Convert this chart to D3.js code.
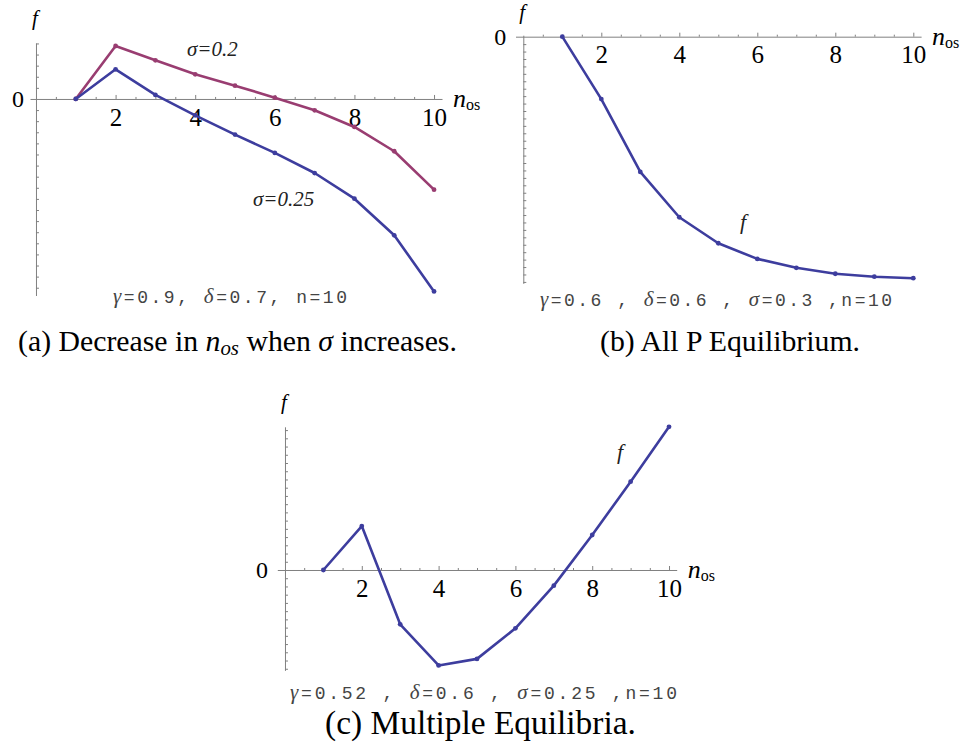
<!DOCTYPE html>
<html>
<head>
<meta charset="utf-8">
<script src="https://cdn.jsdelivr.net/npm/d3@7"></script>
<style>
  html, body { margin: 0; padding: 0; background: #fff; }
  svg { display: block; }
</style>
</head>
<body>
<svg id="chart" width="964" height="748"></svg>
<script>
// ---------------- data ----------------
const nOS = [1, 2, 3, 4, 5, 6, 7, 8, 9, 10];
const xTickLabels = [2, 4, 6, 8, 10];

// panel (a): two sigma values (values in y-tick units)
const fA_sigma020 = [0, 4.77, 3.48, 2.22, 1.20, 0.12, -1.02, -2.52, -4.71, -8.17];
const fA_sigma025 = [0, 2.67, 0.36, -1.47, -3.21, -4.86, -6.67, -8.98, -12.28, -17.33];
// panel (b): all P equilibrium
const fB = [0, -8.4, -18.2, -24.3, -27.8, -29.9, -31.1, -31.9, -32.3, -32.5];
// panel (c): multiple equilibria
const fC = [0, 5.34, -6.6, -11.6, -10.8, -7.09, -1.9, 4.25, 10.73, 17.4];

const paramsA = "γ=0.9, δ=0.7, n=10";
const paramsB = "γ=0.6 , δ=0.6 , σ=0.3 ,n=10";
const paramsC = "γ=0.52 , δ=0.6 , σ=0.25 ,n=10";

const BLUE = "#3d3d9e";
const PURPLE = "#993d71";
const AXIS = "#808080";
const SERIF = "'Liberation Serif', 'Times New Roman', serif";
const MONO = "'Liberation Mono', 'Courier New', monospace";

const svg = d3.select("#chart");

function fitWidth(sel, target) {
  const w = sel.node().getBBox().width;
  const fs = parseFloat(sel.attr("font-size"));
  sel.attr("font-size", fs * target / w);
}

function drawPanel(cfg) {
  const g = svg.append("g");
  const x = d3.scaleLinear().domain(cfg.xDomain).range(cfg.xRange);
  const y = d3.scaleLinear().domain(cfg.yDomain).range(cfg.yRange);
  const x0 = x(0), y0 = y(0);

  // y axis (ticks to the right, no labels)
  const yTicks = d3.range(Math.ceil(cfg.yDomain[0]), Math.floor(cfg.yDomain[1]) + 1).filter(v => v !== 0);
  const yAxis = g.append("g").attr("transform", `translate(${x0},0)`)
    .call(d3.axisRight(y).tickValues(yTicks).tickSize(3).tickSizeOuter(0).tickFormat(""));
  yAxis.select(".domain").attr("stroke", AXIS).attr("stroke-width", 1);
  yAxis.selectAll(".tick line").attr("stroke", AXIS).attr("stroke-width", 1);

  // x axis minor ticks
  const minor = d3.range(0.5, 10.01, 0.5).filter(v => xTickLabels.indexOf(v) < 0);
  const xMinor = g.append("g").attr("transform", `translate(0,${y0})`)
    .call(d3.axisBottom(x).tickValues(minor).tickSize(-2).tickSizeOuter(0).tickFormat(""));
  xMinor.select(".domain").remove();
  xMinor.selectAll(".tick line").attr("stroke", AXIS);

  // x axis major ticks + labels
  const xAxis = g.append("g").attr("transform", `translate(0,${y0})`)
    .call(d3.axisBottom(x).tickValues(xTickLabels).tickSize(-4).tickSizeOuter(0).tickPadding(9));
  xAxis.attr("font-family", SERIF).attr("font-size", 25);
  xAxis.select(".domain").attr("stroke", AXIS).attr("stroke-width", 1);
  xAxis.selectAll(".tick line").attr("stroke", AXIS);
  xAxis.selectAll(".tick text").style("font-family", SERIF).style("font-size", "25px").attr("fill", "#000");

  // "0" label
  g.append("text").attr("x", x0 - cfg.zeroOff).attr("y", y0 + 8)
    .attr("text-anchor", "end").style("font-family", SERIF).style("font-size", "24px").text("0");

  // axis labels
  g.append("text").attr("x", x0 - 4).attr("y", cfg.fLabelY)
    .style("font-family", SERIF).attr("font-style", "italic").style("font-size", "21px").text("f");
  const nl = g.append("text").attr("x", cfg.xRange[1] + 11).attr("y", y0 + 8)
    .style("font-family", SERIF).style("font-size", "26px");
  nl.append("tspan").attr("font-style", "italic").text("n");
  nl.append("tspan").style("font-size", "16px").attr("dy", 3).text("os");

  // series
  const line = d3.line().x((d, i) => x(nOS[i])).y(d => y(d));
  cfg.series.forEach(s => {
    g.append("path").datum(s.values).attr("d", line)
      .attr("fill", "none").attr("stroke", s.color).attr("stroke-width", 2.6)
      .attr("stroke-linejoin", "round");
    g.selectAll(null).data(s.values).enter().append("circle")
      .attr("cx", (d, i) => x(nOS[i])).attr("cy", d => y(d)).attr("r", 2.4)
      .attr("fill", s.color);
  });

  // annotations
  cfg.notes.forEach(n => {
    g.append("text").attr("x", n.x).attr("y", n.y)
      .style("font-family", SERIF).attr("font-style", "italic").style("font-size", (n.size || 21) + "px")
      .attr("fill", "#222").text(n.text);
  });

  // parameter line: Greek letters in serif, rest monospace
  const p = g.append("text").attr("x", cfg.params.x).attr("y", cfg.params.y)
    .style("font-family", MONO).style("font-size", "18px").attr("fill", "#444");
  const chunks = cfg.params.text.split(/([γδσ])/).filter(c => c.length);
  chunks.forEach(c => {
    const t = p.append("tspan").text(c);
    if (/[γδσ]/.test(c)) t.style("font-family", SERIF).style("font-size", "21px").attr("font-style", "italic");
  });
  p.attr("textLength", cfg.params.w).attr("lengthAdjust", "spacing");
}

drawPanel({
  xDomain: [-0.15, 10.2], xRange: [30, 442],
  yDomain: [-17.7, 5.04], yRange: [295.5, 43],
  zeroOff: 12, fLabelY: 25,
  series: [
    { values: fA_sigma020, color: PURPLE },
    { values: fA_sigma025, color: BLUE }
  ],
  notes: [
    { text: "σ=0.2", x: 187, y: 56 },
    { text: "σ=0.25", x: 253, y: 206 }
  ],
  params: { text: paramsA, x: 113, y: 303, w: 234 }
});

drawPanel({
  xDomain: [-0.2, 10.2], xRange: [515.5, 921.1],
  yDomain: [-33.2, 0.2], yRange: [283.4, 35.2],
  zeroOff: 17, fLabelY: 19,
  series: [{ values: fB, color: BLUE }],
  notes: [{ text: "f", x: 740, y: 229, size: 22 }],
  params: { text: paramsB, x: 540, y: 306, w: 352 }
});

drawPanel({
  xDomain: [-0.2, 10.2], xRange: [277.3, 676.7],
  yDomain: [-12.2, 17.4], yRange: [670.4, 426.8],
  zeroOff: 17, fLabelY: 409,
  series: [{ values: fC, color: BLUE }],
  notes: [{ text: "f", x: 617, y: 459, size: 22 }],
  params: { text: paramsC, x: 290, y: 699, w: 387 }
});

// captions
function caption(parts, cx, y, width) {
  const t = svg.append("text").attr("x", cx).attr("y", y).attr("text-anchor", "middle")
    .attr("font-family", SERIF).attr("font-size", 24).attr("fill", "#000");
  parts.forEach(p => {
    const s = t.append("tspan").text(p.t);
    if (p.i) s.attr("font-style", "italic");
    if (p.sub) s.attr("font-size", "0.7em").attr("dy", 4);
    if (p.up) s.attr("dy", -4);
  });
  fitWidth(t, width);
}
caption([{ t: "(a) Decrease in " }, { t: "n", i: true }, { t: "os", i: true, sub: true },
         { t: " when ", up: true }, { t: "σ", i: true }, { t: " increases." }], 237.5, 351, 439);
caption([{ t: "(b) All P Equilibrium." }], 730, 351, 260);
caption([{ t: "(c) Multiple Equilibria." }], 480.5, 734, 311);
</script>
</body>
</html>
